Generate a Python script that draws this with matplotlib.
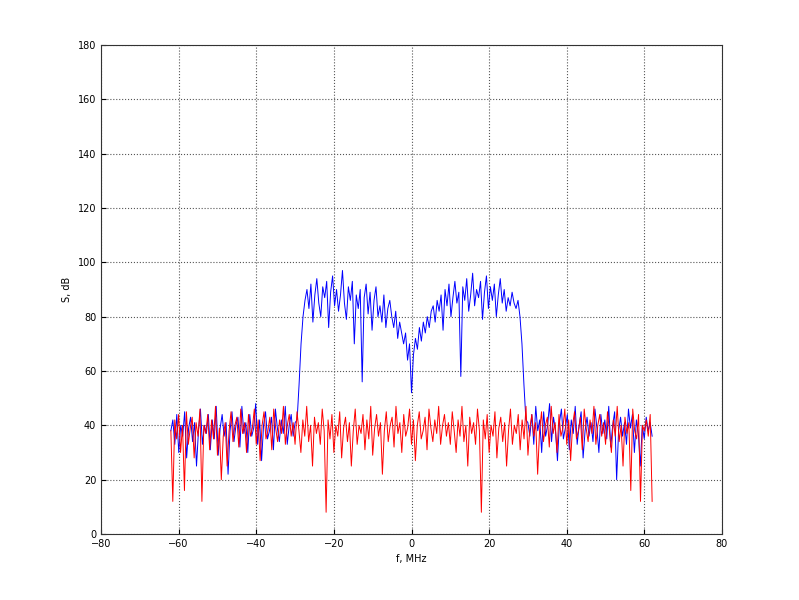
import numpy as np
import matplotlib
matplotlib.use("Agg")
import matplotlib.pyplot as plt

blue_db = [
 38,42,33,44,30,40,36,45,28,39,43,34,41,25,38,46,33,40,37,44,
 31,42,35,47,29,39,44,36,41,22,38,45,34,40,43,32,47,37,41,30,
 44,36,39,48,33,42,27,40,45,35,38,43,31,46,39,34,42,37,47,33,
 40,44,36,41,
 42,55,70,80,
 86,90,83,92,78,88,94,85,80,91,87,93,76,89,95,84,90,82,88,97,
 85,79,91,86,93,70,88,83,90,56,87,92,81,89,75,86,91,80,84,78,
 88,76,83,86,
 80,76,82,72,78,74,70,74,64,70,52,66,72,68,76,71,78,74,80,76,82,
 84,78,86,82,88,75,90,84,92,80,87,93,85,89,58,91,86,94,82,88,
 96,84,90,87,93,79,89,95,83,91,86,92,80,88,94,85,90,82,87,84,
 89,85,83,86,
 80,70,55,42,
 41,36,44,33,47,38,42,30,45,36,40,48,34,43,38,27,41,46,35,39,
 44,31,42,37,47,33,40,45,28,38,43,36,41,34,46,39,30,44,37,42,
 35,47,32,40,45,20,38,43,36,41,33,46,39,44,30,42,37,25,40,35,
 43,38,41,36,
]

red_db = [
 38,12,42,35,44,30,40,16,45,33,39,43,28,41,36,46,12,40,37,44,
 31,42,35,47,29,39,20,36,41,25,38,45,34,40,43,32,46,37,41,30,
 44,36,39,46,33,42,27,40,45,35,38,43,31,46,39,34,42,37,47,33,
 40,44,36,41,33,45,38,30,42,36,47,34,40,25,43,37,41,33,46,38,
 8,42,35,44,30,40,36,45,28,39,43,34,41,25,38,46,33,40,37,44,
 31,42,35,47,29,39,44,36,41,22,38,45,34,40,43,32,47,37,41,30,
 44,36,39,46,33,42,27,40,45,35,38,43,31,46,39,34,42,37,47,33,
 40,44,36,41,33,45,38,30,42,36,47,34,40,25,43,37,41,33,46,38,
 8,42,35,44,30,40,36,45,28,39,43,34,41,25,38,46,33,40,37,44,
 31,42,35,47,29,39,44,36,41,22,38,45,34,40,43,32,47,37,41,30,
 44,36,39,46,33,42,27,40,45,35,38,43,31,46,39,34,42,37,47,33,
 40,44,36,41,33,45,38,30,42,36,47,34,40,25,43,37,41,16,46,38,
 35,44,12,40,38,42,36,44,12,
]

f_blue = np.linspace(-62, 62, len(blue_db))
f_red = np.linspace(-62, 62, len(red_db))

fig = plt.figure(figsize=(7.99, 6.0), dpi=100)
ax = fig.add_axes([101/799, 66/600, 621/799, 489/600])
ax.plot(f_blue, blue_db, color="#0000ff", lw=0.7)
ax.plot(f_red, red_db, color="#ff0000", lw=0.7)
ax.set_xlim(-80, 80)
ax.set_ylim(0, 180)
ax.set_xticks(range(-80, 81, 20))
ax.set_yticks(range(0, 181, 20))
ax.grid(True, linestyle=":", color="#555555", lw=0.8)
for s in ax.spines.values():
    s.set_color("#333333")
ax.tick_params(labelsize=7, direction="in")
ax.set_xlabel("f, MHz", fontsize=7)
ax.set_ylabel("S, dB", fontsize=7)
fig.savefig("out.png", dpi=100)
